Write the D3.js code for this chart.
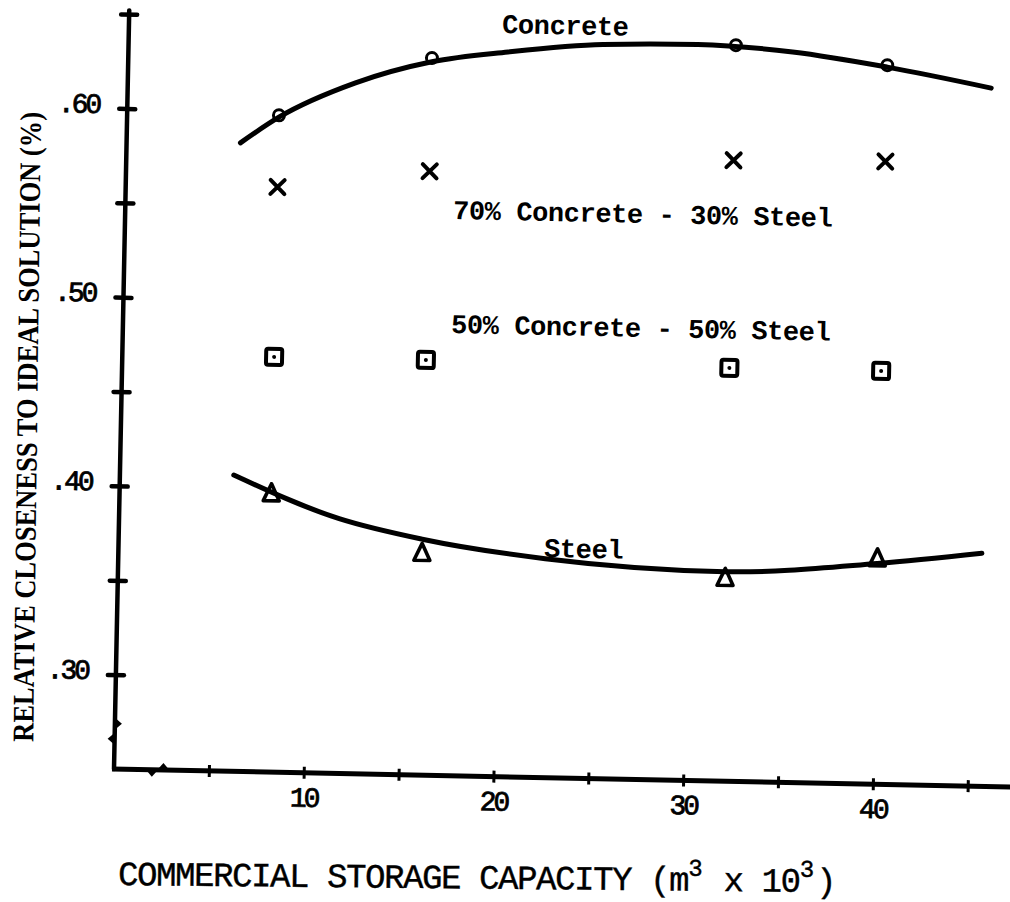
<!DOCTYPE html>
<html>
<head>
<meta charset="utf-8">
<script src="https://cdn.jsdelivr.net/npm/d3@7"></script>
<style>
  html, body { margin: 0; padding: 0; background: #fff; }
  svg { display: block; }
  text { white-space: pre; }
</style>
</head>
<body>
<svg id="chart" width="1010" height="902"></svg>
<script>
// Storage capacities (thousand m³) at which each tank material was evaluated
const capacity = [8, 16, 32, 40];

// Relative closeness to the ideal solution for each material mix
const concrete = [0.598, 0.630, 0.640, 0.631];
const mix70 = [0.560, 0.570, 0.579, 0.580];   // 70% concrete - 30% steel
const mix50 = [0.470, 0.470, 0.469, 0.469];   // 50% concrete - 50% steel
const steel = [0.398, 0.368, 0.358, 0.370];

// Hand-fitted trend curves through the concrete and steel results
const concreteFitX = [6, 8, 12, 16, 20, 25, 30, 35, 40, 45.5];
const concreteFitY = [0.583, 0.597, 0.616, 0.628, 0.634, 0.639, 0.640, 0.637, 0.630, 0.620];
const steelFitX = [6, 11.6, 16, 22.5, 32, 40, 45.5];
const steelFitY = [0.407, 0.385, 0.375, 0.366, 0.361, 0.367, 0.3735];

// Axis ticks and labels
const xTicks = [5, 10, 15, 20, 25, 30, 35, 40, 45];
const xTickLabels = [10, 20, 30, 40];
const yTicks = [0.30, 0.35, 0.40, 0.45, 0.50, 0.55, 0.60, 0.65];
const yTickLabels = [0.30, 0.40, 0.50, 0.60];

const curveLabels = ["Concrete", "70% Concrete - 30% Steel", "50% Concrete - 50% Steel", "Steel"];
// pieces of the x title: plain text and superscripts alternate
const xTitle = [
  { t: "COMMERCIAL STORAGE CAPACITY (m", sup: false },
  { t: "3", sup: true },
  { t: " x 10", sup: false },
  { t: "3", sup: true },
  { t: ")", sup: false }
];
const yTitle = "RELATIVE CLOSENESS TO IDEAL SOLUTION (%)";

const svg = d3.select("#chart");
const ox = 114, oy = 769;
const tilt = 1.15; // the whole plate sits slightly askew

const x = d3.scaleLinear().domain([0, 40]).range([ox, 873]);
const y = d3.scaleLinear().domain([0.25, 0.65]).range([oy, 14]);

const mono = "'Liberation Mono', 'Courier New', monospace";

const g = svg.append("g").attr("transform", `rotate(${tilt},${ox},${oy})`);

// ---- axes ----
const xAxis = d3.axisBottom(x)
  .tickValues(xTicks)
  .tickFormat(d => xTickLabels.includes(d) ? String(d) : "")
  .tickSize(6)
  .tickPadding(8);

const gx = g.append("g").attr("transform", `translate(0,${oy})`).call(xAxis);
gx.select(".domain").remove();
gx.selectAll(".tick line").attr("y1", -6).attr("y2", 6)
  .attr("stroke", "#000").attr("stroke-width", 3);
gx.selectAll(".tick text")
  .attr("y", 14).attr("dy", "0.71em")
  .attr("font-family", mono).attr("font-size", 28)
  .attr("letter-spacing", -3)
  .attr("fill", "#000").attr("stroke", "#000").attr("stroke-width", 0.8);

const yAxis = d3.axisLeft(y)
  .tickValues(yTicks)
  .tickFormat(d => yTickLabels.includes(d) ? d3.format(".2f")(d).replace(/^0/, "") : "")
  .tickSize(8)
  .tickPadding(20);

const gy = g.append("g").attr("transform", `translate(${ox},0)`).call(yAxis);
gy.select(".domain").remove();
gy.selectAll(".tick line").attr("x1", -8).attr("x2", 8)
  .attr("stroke", "#000").attr("stroke-width", 4.5).attr("stroke-linecap", "round");
gy.selectAll(".tick text")
  .attr("dy", "0.16em")
  .attr("font-family", mono).attr("font-size", 28)
  .attr("letter-spacing", -3)
  .attr("fill", "#000").attr("stroke", "#000").attr("stroke-width", 0.8);

// axis lines
g.append("line")
  .attr("x1", x(0)).attr("y1", y(0.25)).attr("x2", x(0)).attr("y2", y(0.652))
  .attr("stroke", "#000").attr("stroke-width", 4.5).attr("stroke-linecap", "round");
g.append("line")
  .attr("x1", x(0) - 2).attr("y1", y(0.25)).attr("x2", x(48)).attr("y2", y(0.25))
  .attr("stroke", "#000").attr("stroke-width", 5);

// small break notches near the origin
const notch = [
  { axis: "y", v: 0.274, side: 1 },
  { axis: "y", v: 0.266, side: -1 },
  { axis: "x", v: 2.0, side: 1 },
  { axis: "x", v: 2.6, side: -1 }
];
g.selectAll("path.notch").data(notch).join("path")
  .attr("class", "notch")
  .attr("d", n => {
    if (n.axis === "y") {
      const py = y(n.v), px = x(0);
      return `M${px},${py - 6}L${px + 7 * n.side},${py}L${px},${py + 6}Z`;
    }
    const px = x(n.v), py = y(0.25);
    return `M${px - 6},${py}L${px},${py + 7 * n.side}L${px + 6},${py}Z`;
  })
  .attr("fill", "#000");

// ---- fitted curves ----
const line = d3.line().x(d => x(d[0])).y(d => y(d[1])).curve(d3.curveMonotoneX);
g.append("path")
  .attr("d", line(concreteFitX.map((c, i) => [c, concreteFitY[i]])))
  .attr("fill", "none").attr("stroke", "#000").attr("stroke-width", 5)
  .attr("stroke-linecap", "round");
g.append("path")
  .attr("d", line(steelFitX.map((c, i) => [c, steelFitY[i]])))
  .attr("fill", "none").attr("stroke", "#000").attr("stroke-width", 5)
  .attr("stroke-linecap", "round");

// ---- markers ----
const pts = arr => capacity.map((c, i) => ({ px: x(c), py: y(arr[i]) }));

g.selectAll("circle.conc").data(pts(concrete)).join("circle")
  .attr("class", "conc")
  .attr("cx", d => d.px).attr("cy", d => d.py).attr("r", 5.5)
  .attr("fill", "none").attr("stroke", "#000").attr("stroke-width", 3);

g.selectAll("path.mix70").data(pts(mix70)).join("path")
  .attr("class", "mix70")
  .attr("d", d => `M${d.px - 7},${d.py - 7}L${d.px + 7},${d.py + 7}M${d.px + 7},${d.py - 7}L${d.px - 7},${d.py + 7}`)
  .attr("stroke", "#000").attr("stroke-width", 4).attr("stroke-linecap", "round");

const sq = g.selectAll("g.mix50").data(pts(mix50)).join("g").attr("class", "mix50");
sq.append("rect")
  .attr("x", d => d.px - 8).attr("y", d => d.py - 8)
  .attr("width", 16).attr("height", 16).attr("rx", 2)
  .attr("fill", "#fff").attr("stroke", "#000").attr("stroke-width", 4);
sq.append("circle")
  .attr("cx", d => d.px).attr("cy", d => d.py).attr("r", 2).attr("fill", "#000");

g.selectAll("path.steel").data(pts(steel)).join("path")
  .attr("class", "steel")
  .attr("d", d => `M${d.px},${d.py - 9}L${d.px - 8},${d.py + 8}L${d.px + 8},${d.py + 8}Z`)
  .attr("fill", "none").attr("stroke", "#000").attr("stroke-width", 3.6)
  .attr("stroke-linejoin", "round");

// ---- curve labels ----
const labelPos = [[502, 33], [453, 219], [451, 333], [544, 557]];
svg.selectAll("text.curve").data(curveLabels).join("text")
  .attr("class", "curve")
  .attr("transform", (d, i) => `translate(${labelPos[i][0]},${labelPos[i][1]}) rotate(${tilt})`)
  .attr("font-family", mono).attr("font-size", 27).attr("font-weight", 700)
  .attr("letter-spacing", -0.4)
  .attr("fill", "#000")
  .text(d => d);

// ---- axis titles ----
const xt = svg.append("g").attr("transform", "translate(118,885) rotate(0.57)");
let cursor = 0;
xTitle.forEach(p => {
  const t = xt.append("text")
    .attr("x", cursor)
    .attr("y", p.sup ? -15 : 0)
    .attr("font-family", mono)
    .attr("font-size", p.sup ? 24 : 34)
    .attr("letter-spacing", p.sup ? 0 : -1.4)
    .attr("fill", "#000").attr("stroke", "#000").attr("stroke-width", 0.4)
    .text(p.t);
  cursor += t.node().getComputedTextLength() + (p.sup ? 2 : 0);
});

svg.append("text")
  .attr("transform", "translate(37,427) rotate(-89.3)")
  .attr("text-anchor", "middle")
  .attr("font-family", "'Liberation Serif', 'Times New Roman', serif")
  .attr("font-size", 30).attr("font-weight", 700)
  .attr("textLength", 630).attr("lengthAdjust", "spacingAndGlyphs")
  .attr("fill", "#000")
  .text(yTitle);
</script>
</body>
</html>
